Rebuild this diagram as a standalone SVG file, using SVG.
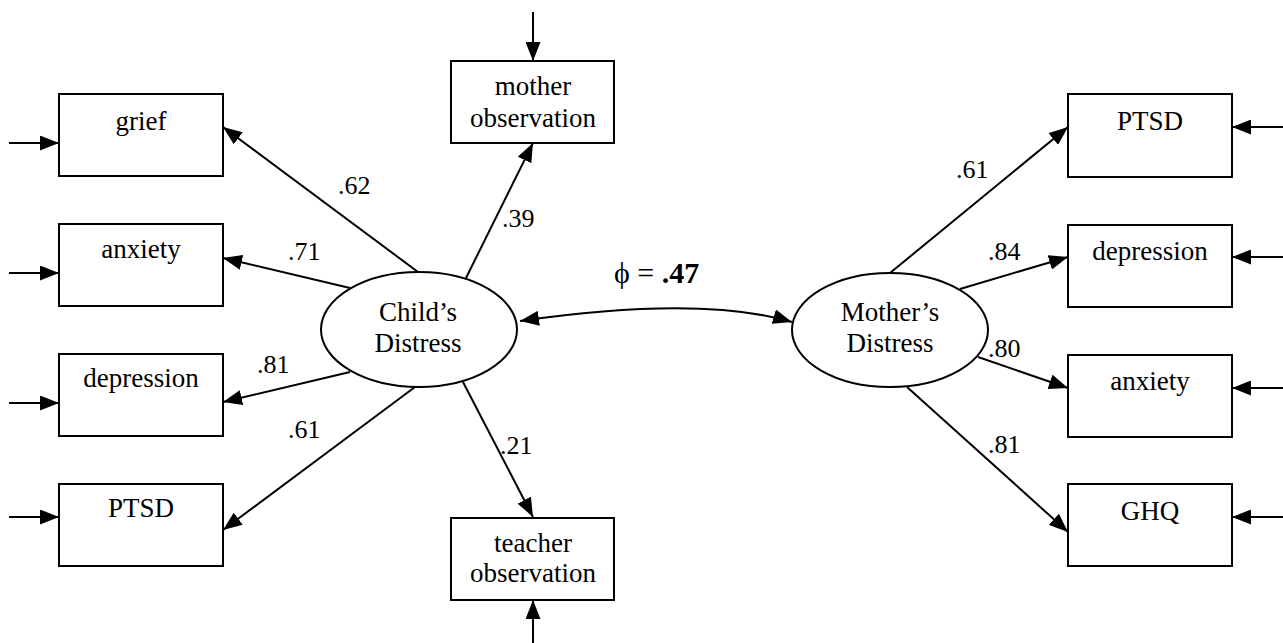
<svg xmlns="http://www.w3.org/2000/svg" width="1283" height="643" viewBox="0 0 1283 643">
<style>
.box{fill:#fff;stroke:#000;stroke-width:2}
.lat{fill:#fff;stroke:#000;stroke-width:2}
.t{font-family:"Liberation Serif","Times New Roman","DejaVu Serif",serif;font-size:27px;fill:#000;text-anchor:middle}
.lbl{font-family:"Liberation Serif","Times New Roman","DejaVu Serif",serif;font-size:26px;fill:#000}
.c{fill:none;stroke:#000;stroke-width:2;marker-end:url(#ah)}
</style>
<defs>
<marker id="ah" markerUnits="userSpaceOnUse" markerWidth="19" markerHeight="15" refX="19" refY="7.5" orient="auto-start-reverse" viewBox="0 0 19 15">
<path d="M0,0 L19,7.5 L0,15 z" fill="#000"/>
</marker>
</defs>
<rect width="1283" height="643" fill="#fff"/>
<g id="connectors">
<line class="c" x1="9" y1="143" x2="59" y2="143"/>
<line class="c" x1="9" y1="273" x2="59" y2="273"/>
<line class="c" x1="9" y1="403" x2="59" y2="403"/>
<line class="c" x1="9" y1="517" x2="59" y2="517"/>
<line class="c" x1="1283" y1="127" x2="1232" y2="127"/>
<line class="c" x1="1283" y1="257" x2="1232" y2="257"/>
<line class="c" x1="1283" y1="388" x2="1232" y2="388"/>
<line class="c" x1="1283" y1="517" x2="1232" y2="517"/>
<line class="c" x1="533" y1="12" x2="533" y2="61"/>
<line class="c" x1="533" y1="643" x2="533" y2="600"/>
<line class="c" x1="418" y1="272" x2="223" y2="127"/>
<line class="c" x1="350" y1="288" x2="223" y2="258"/>
<line class="c" x1="350" y1="372" x2="223" y2="402"/>
<line class="c" x1="415" y1="387" x2="223" y2="530"/>
<line class="c" x1="466" y1="278" x2="533" y2="143"/>
<line class="c" x1="463" y1="382" x2="533" y2="517"/>
<line class="c" x1="890" y1="273" x2="1068" y2="127"/>
<line class="c" x1="960" y1="289" x2="1068" y2="257"/>
<line class="c" x1="978" y1="357" x2="1068" y2="388"/>
<line class="c" x1="907" y1="387" x2="1068" y2="532"/>
<path class="c" d="M520,321 Q700,295 792,322" style="marker-start:url(#ah)"/>
<text class="lbl" x="338" y="194">.62</text>
<text class="lbl" x="288" y="260">.71</text>
<text class="lbl" x="257" y="373">.81</text>
<text class="lbl" x="288" y="438">.61</text>
<text class="lbl" x="502" y="227">.39</text>
<text class="lbl" x="500" y="454">.21</text>
<text class="lbl" x="956" y="178">.61</text>
<text class="lbl" x="988" y="260">.84</text>
<text class="lbl" x="988" y="357">.80</text>
<text class="lbl" x="988" y="453">.81</text>
<text class="lbl" x="614" y="283" style="font-size:30px">ϕ = <tspan font-weight="bold">.47</tspan></text>
</g>
<g id="child-distress">
<ellipse class="lat" cx="419" cy="329.5" rx="98" ry="57.5"/>
<text class="t" x="418" y="321">Child’s</text>
<text class="t" x="418" y="352">Distress</text>
</g>
<g id="mother-distress">
<ellipse class="lat" cx="890" cy="330" rx="98" ry="57"/>
<text class="t" x="890" y="321">Mother’s</text>
<text class="t" x="890" y="352">Distress</text>
</g>
<g id="c-grief"><rect class="box" x="59" y="94" width="164" height="82"/><text class="t" x="141" y="130">grief</text></g>
<g id="c-anxiety"><rect class="box" x="59" y="224" width="164" height="82"/><text class="t" x="141" y="258">anxiety</text></g>
<g id="c-depression"><rect class="box" x="59" y="354" width="164" height="82"/><text class="t" x="141" y="387">depression</text></g>
<g id="c-ptsd"><rect class="box" x="59" y="484" width="164" height="82"/><text class="t" x="141" y="517">PTSD</text></g>
<g id="mother-observation"><rect class="box" x="451" y="61" width="163" height="82"/><text class="t" x="533" y="95">mother</text><text class="t" x="533" y="127">observation</text></g>
<g id="teacher-observation"><rect class="box" x="451" y="518" width="163" height="82"/><text class="t" x="533" y="552">teacher</text><text class="t" x="533" y="582">observation</text></g>
<g id="m-ptsd"><rect class="box" x="1068" y="94" width="164" height="83"/><text class="t" x="1150" y="130">PTSD</text></g>
<g id="m-depression"><rect class="box" x="1068" y="225" width="164" height="82"/><text class="t" x="1150" y="260">depression</text></g>
<g id="m-anxiety"><rect class="box" x="1068" y="355" width="164" height="82"/><text class="t" x="1150" y="390">anxiety</text></g>
<g id="m-ghq"><rect class="box" x="1068" y="484" width="164" height="82"/><text class="t" x="1150" y="520">GHQ</text></g>
</svg>
